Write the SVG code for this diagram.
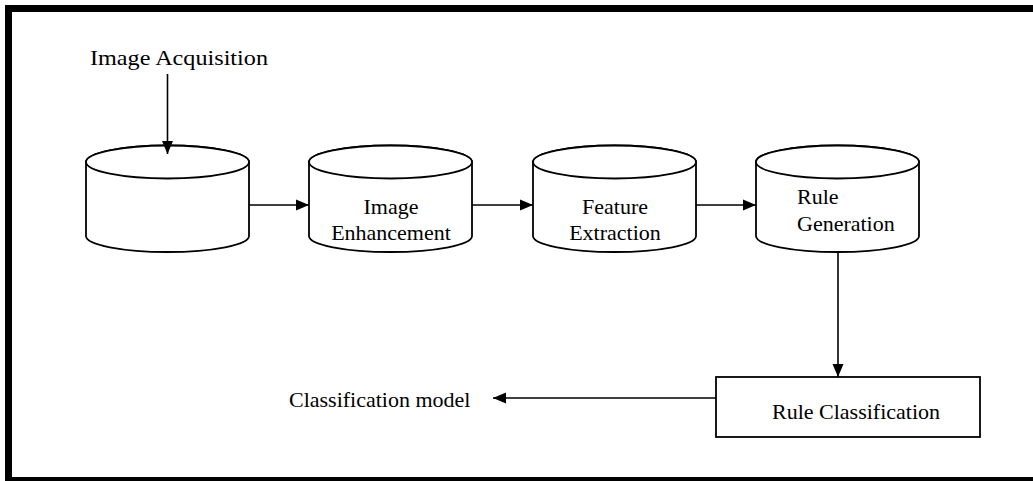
<svg xmlns="http://www.w3.org/2000/svg" width="1033" height="481" viewBox="0 0 1033 481">
<defs>
<style>
.shape{fill:#fff;stroke:#000;stroke-width:1.8}
.conn{fill:none;stroke:#000;stroke-width:1.6}
.lbl{font-family:"Liberation Serif","Times New Roman",serif;font-size:22px;fill:#000}
.mid{text-anchor:middle}
</style>
<marker id="ah" markerUnits="userSpaceOnUse" markerWidth="14" markerHeight="12" refX="13" refY="6" orient="auto">
<path d="M0,0.5 L13,6 L0,11.5 Z" fill="#000"/>
</marker>
</defs>
<rect width="1033" height="481" fill="#fff"/>
<rect x="8.5" y="8.5" width="1040" height="472" fill="none" stroke="#000" stroke-width="7"/>

<g id="label-acquisition">
<text class="lbl" x="90" y="65" textLength="178" lengthAdjust="spacingAndGlyphs">Image Acquisition</text>
</g>

<g id="node-db1">
<path class="shape" d="M86,162 L86,236 A81.5,16 0 0 0 249,236 L249,162 A81.5,16.5 0 0 0 86,162 Z"/>
<ellipse class="shape" cx="167.5" cy="162" rx="81.5" ry="16.5"/>
</g>

<g id="node-enhancement">
<path class="shape" d="M309,162 L309,236 A81.5,16 0 0 0 472,236 L472,162 A81.5,16.5 0 0 0 309,162 Z"/>
<ellipse class="shape" cx="390.5" cy="162" rx="81.5" ry="16.5"/>
<text class="lbl mid" x="391" y="214">Image</text>
<text class="lbl mid" x="391" y="240">Enhancement</text>
</g>

<g id="node-feature">
<path class="shape" d="M533,162 L533,236 A81.5,16 0 0 0 696,236 L696,162 A81.5,16.5 0 0 0 533,162 Z"/>
<ellipse class="shape" cx="614.5" cy="162" rx="81.5" ry="16.5"/>
<text class="lbl mid" x="615" y="214">Feature</text>
<text class="lbl mid" x="615" y="240">Extraction</text>
</g>

<g id="node-rulegen">
<path class="shape" d="M756,162 L756,236 A81.5,16 0 0 0 919,236 L919,162 A81.5,16.5 0 0 0 756,162 Z"/>
<ellipse class="shape" cx="837.5" cy="162" rx="81.5" ry="16.5"/>
<text class="lbl" x="797" y="204">Rule</text>
<text class="lbl" x="797" y="231">Generation</text>
</g>

<g id="node-ruleclass">
<rect class="shape" x="716" y="377" width="264" height="60"/>
<text class="lbl" x="772" y="419">Rule Classification</text>
</g>

<g id="label-model">
<text class="lbl" x="289" y="407">Classification model</text>
</g>

<g id="connectors">
<line class="conn" x1="167.5" y1="74" x2="167.5" y2="154" marker-end="url(#ah)"/>
<line class="conn" x1="249" y1="205" x2="309" y2="205" marker-end="url(#ah)"/>
<line class="conn" x1="472" y1="205" x2="533" y2="205" marker-end="url(#ah)"/>
<line class="conn" x1="696" y1="205" x2="756" y2="205" marker-end="url(#ah)"/>
<line class="conn" x1="838" y1="252" x2="838" y2="377" marker-end="url(#ah)"/>
<line class="conn" x1="716" y1="398" x2="493" y2="398" marker-end="url(#ah)"/>
</g>
</svg>
